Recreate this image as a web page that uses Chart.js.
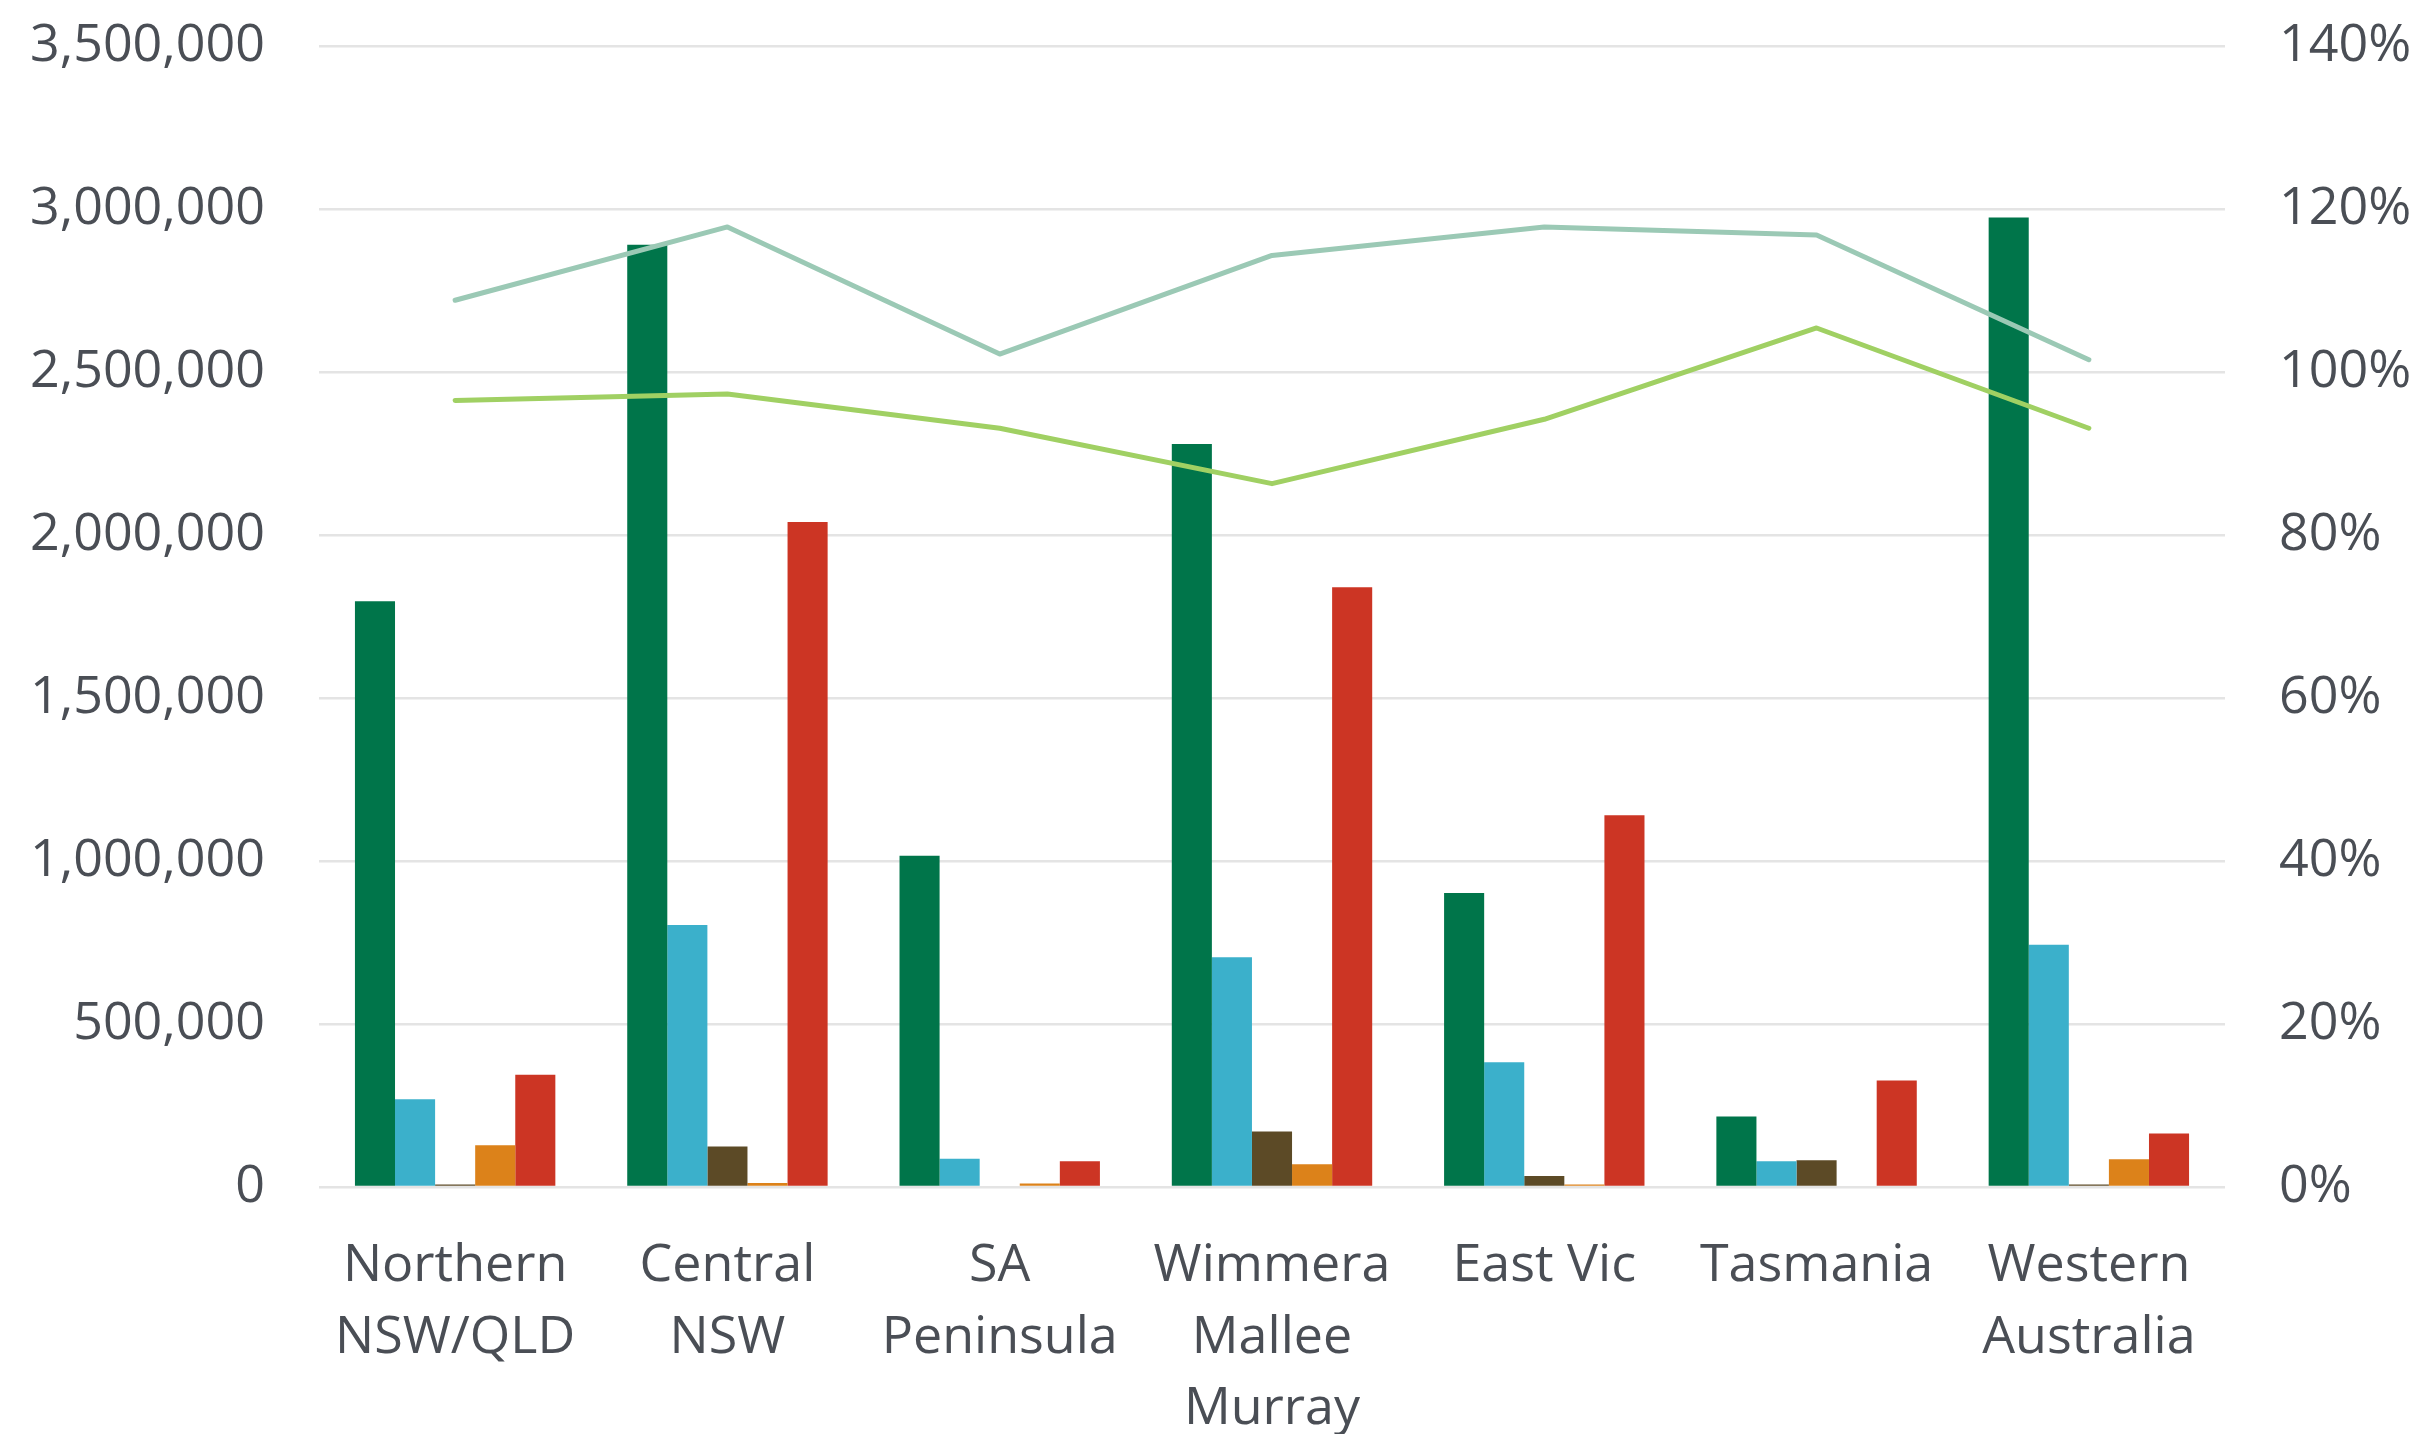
<!DOCTYPE html>
<html>
<head>
<meta charset="utf-8">
<script src="https://cdn.jsdelivr.net/npm/chart.js@4.4.1/dist/chart.umd.min.js"></script>
<style>
  html, body { margin: 0; padding: 0; background: #fff; }
  #wrap { width: 2418px; height: 1434px; }
</style>
</head>
<body>
<div id="wrap"><canvas id="chart" width="2418" height="1434"></canvas></div>
<script>
// === Data ===
const categories = [
  ["Northern", "NSW/QLD"],
  ["Central", "NSW"],
  ["SA", "Peninsula"],
  ["Wimmera", "Mallee", "Murray"],
  "East Vic",
  "Tasmania",
  ["Western", "Australia"],
];
const seriesGreen = [1797000, 2890000, 1016000, 2279000, 902000, 216000, 2974000];
const seriesCyan = [269000, 804000, 87000, 705000, 383000, 79000, 743000];
const seriesBrown = [8000, 124000, 0, 170000, 34000, 82000, 8000];
const seriesOrange = [128000, 12000, 11000, 70000, 8000, 0, 85000];
const seriesRed = [344000, 2040000, 79000, 1840000, 1140000, 327000, 164000];
const ratioTeal = [108.8, 117.8, 102.2, 114.3, 117.8, 116.8, 101.5];
const ratioLime = [96.5, 97.3, 93.1, 86.3, 94.2, 105.4, 93.1];
const leftTicks = [0, 500000, 1000000, 1500000, 2000000, 2500000, 3000000, 3500000];
const rightTicks = [0, 20, 40, 60, 80, 100, 120, 140];

// === Styles ===
const textColor = "#4a4e55";
const gridColor = "#e4e4e4";
const font = { family: "'Open Sans', sans-serif", size: 52 };

function barSet(label, data, color) {
  return {
    type: "bar",
    label: label,
    data: data,
    backgroundColor: color,
    borderWidth: 0,
    categoryPercentage: 0.736,
    barPercentage: 1.0,
    yAxisID: "y",
    order: 2,
  };
}
function lineSet(label, data, color) {
  return {
    type: "line",
    label: label,
    data: data,
    borderColor: color,
    backgroundColor: color,
    borderWidth: 5,
    borderCapStyle: "round",
    borderJoinStyle: "round",
    pointRadius: 0,
    tension: 0,
    yAxisID: "y1",
    order: 1,
  };
}

// fixed axis box sizes so the plot area sits where the reference has it
function fixVertical(width) {
  return (axis) => {
    axis.width = width;
    axis.paddingTop = 0;
    axis.paddingBottom = 0;
  };
}

const ctx = document.getElementById("chart").getContext("2d");
new Chart(ctx, {
  data: {
    labels: categories,
    datasets: [
      barSet("Series 1", seriesGreen, "#00754a"),
      barSet("Series 2", seriesCyan, "#3bb0cb"),
      barSet("Series 3", seriesBrown, "#5c4a26"),
      barSet("Series 4", seriesOrange, "#dc821a"),
      barSet("Series 5", seriesRed, "#cc3524"),
      lineSet("Ratio 1", ratioTeal, "#9bc9b5"),
      lineSet("Ratio 2", ratioLime, "#a0d063"),
    ],
  },
  options: {
    responsive: false,
    animation: false,
    layout: { padding: { left: 0, right: 0, top: 46, bottom: 0 } },
    plugins: {
      legend: { display: false },
      tooltip: { enabled: false },
    },
    scales: {
      x: {
        grid: { display: false },
        border: { display: false },
        afterFit: (axis) => {
          axis.height = 247;
          axis.paddingLeft = 0;
          axis.paddingRight = 0;
        },
        ticks: {
          color: textColor,
          font: { ...font, lineHeight: 1.37 },
          maxRotation: 0,
          autoSkip: false,
          padding: 36,
        },
      },
      y: {
        position: "left",
        min: leftTicks[0],
        max: leftTicks[leftTicks.length - 1],
        afterBuildTicks: (axis) => {
          axis.ticks = leftTicks.map((v) => ({ value: v }));
        },
        afterFit: fixVertical(319),
        grid: { color: gridColor, lineWidth: 2.5, drawTicks: false },
        border: { display: false },
        ticks: {
          color: textColor,
          font: font,
          padding: 54,
          callback: (v) => Number(v).toLocaleString("en-US"),
        },
      },
      y1: {
        position: "right",
        min: rightTicks[0],
        max: rightTicks[rightTicks.length - 1],
        afterBuildTicks: (axis) => {
          axis.ticks = rightTicks.map((v) => ({ value: v }));
        },
        afterFit: fixVertical(193),
        grid: { drawOnChartArea: false, drawTicks: false },
        border: { display: false },
        ticks: {
          color: textColor,
          font: font,
          padding: 54,
          callback: (v) => v + "%",
        },
      },
    },
  },
});
</script>
</body>
</html>
